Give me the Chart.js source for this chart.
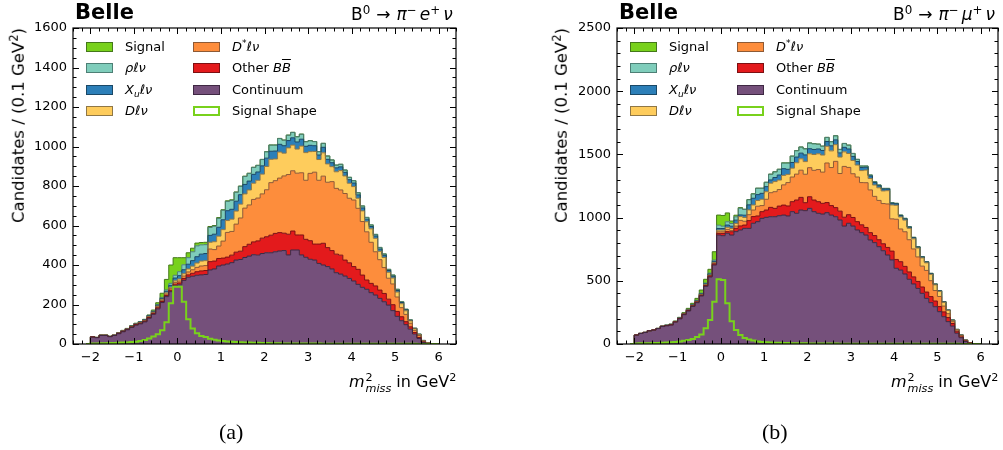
<!DOCTYPE html>
<html>
<head>
<meta charset="utf-8">
<script src="https://cdn.jsdelivr.net/npm/chart.js@4.4.1/dist/chart.umd.min.js"></script>
<style>
  html, body { margin: 0; padding: 0; background: #fff; }
  body { width: 1003px; height: 450px; position: relative; overflow: hidden;
         font-family: 'DejaVu Sans', sans-serif; color: #000; }
  .panel { position: absolute; top: 0; height: 450px; }
  .t { position: absolute; white-space: nowrap; line-height: 1; }
  .belle { font-weight: bold; font-size: 21px; }
  .decay { font-size: 17px; }
  .decay .ar { margin: 0 6px; }
  .decay .g { margin-right: 3px; }
  .ylab { font-size: 16.5px; transform-origin: 0 0; transform: rotate(-90deg) translate(-100%, -50%); }
  .xlab { font-size: 16px; }
  .cap { font-family: 'Liberation Serif', serif; font-size: 22px; }
  .sp { font-size: 0.7em; position: relative; top: -0.5em; }
  .sb { font-size: 0.7em; position: relative; top: 0.3em; }
  .ms { display: inline-flex; flex-direction: column; align-items: flex-start;
        font-size: 0.7em; line-height: 1; vertical-align: 6px; margin-left: 1px; }
  .sw { position: absolute; width: 27px; height: 10px; box-sizing: border-box; border: 1px solid #777; }
  .lt { position: absolute; white-space: nowrap; font-size: 13px; line-height: 14px; }
  .ov { text-decoration: overline; }
</style>
</head>
<body>
<div class="panel" style="left:0;width:500px;"><canvas id="chartE"></canvas></div>
<div class="panel" style="left:500px;width:503px;"><canvas id="chartMu"></canvas></div>
<div id="overlay"></div>
<script>
// Histogram binning of m_miss^2 (GeV^2)
const BIN_START = -2.0;
const BIN_WIDTH = 0.1;

// Axis ticks
const X_TICKS = [-2, -1, 0, 1, 2, 3, 4, 5, 6];
const Y_TICKS_E = [0, 200, 400, 600, 800, 1000, 1200, 1400, 1600];
const Y_TICKS_MU = [0, 500, 1000, 1500, 2000, 2500];

// ---- B0 -> pi- e+ nu : candidates per bin, stacked from the bottom ----
const E_CONTINUUM = [35, 32, 43, 43, 37, 43, 52, 62, 72, 84,
  95, 102, 112, 130, 150, 178, 210, 240, 265, 295,
  300, 322, 338, 343, 348, 350, 352, 375, 380, 395,
  400, 405, 412, 425, 428, 438, 445, 452, 450, 458,
  462, 462, 467, 471, 473, 451, 476, 476, 451, 439,
  429, 425, 408, 400, 392, 380, 361, 354, 344, 332,
  319, 302, 287, 277, 260, 248, 231, 214, 197, 169,
  140, 118, 98, 75, 50, 28, 8, 2, 0, 0];
const E_OTHER_BB = [1, 1, 1, 1, 1, 1, 2, 2, 2, 2,
  3, 3, 3, 4, 4, 5, 5, 6, 7, 8,
  9, 10, 12, 15, 18, 20, 20, 42, 40, 38,
  35, 35, 38, 40, 42, 55, 60, 65, 72, 78,
  81, 89, 93, 93, 88, 105, 96, 76, 101, 91,
  94, 81, 98, 110, 96, 93, 94, 96, 81, 79,
  73, 76, 62, 47, 47, 46, 42, 42, 30, 30,
  25, 20, 15, 12, 8, 5, 2, 0, 0, 0];
const E_DSTAR = [0, 0, 0, 0, 0, 0, 1, 1, 1, 2,
  2, 2, 3, 3, 4, 5, 6, 7, 8, 9,
  10, 12, 15, 18, 22, 25, 25, 64, 58, 63,
  86, 125, 120, 142, 168, 195, 199, 215, 217, 224,
  238, 266, 267, 276, 290, 302, 305, 313, 315, 299,
  341, 364, 323, 340, 331, 349, 333, 330, 337, 327,
  337, 309, 271, 244, 208, 173, 154, 131, 106, 105,
  73, 46, 37, 18, 11, 10, 4, 3, 0, 0];
const E_D = [0, 0, 0, 0, 0, 0, 0, 1, 1, 1,
  1, 2, 2, 3, 3, 4, 5, 6, 7, 8,
  10, 12, 15, 18, 22, 25, 25, 34, 40, 50,
  58, 60, 62, 66, 70, 72, 76, 82, 90, 100,
  118, 118, 110, 132, 115, 135, 130, 122, 135, 140,
  110, 105, 105, 118, 93, 76, 84, 98, 89, 76,
  68, 51, 54, 51, 68, 68, 42, 51, 30, 30,
  25, 20, 18, 12, 8, 5, 3, 1, 0, 0];
const E_XU = [0, 0, 0, 0, 0, 0, 1, 1, 1, 1,
  2, 2, 2, 3, 3, 4, 5, 8, 10, 14,
  17, 20, 24, 28, 32, 35, 36, 35, 38, 45,
  50, 50, 50, 50, 48, 48, 45, 45, 42, 42,
  42, 41, 40, 39, 38, 37, 37, 36, 35, 32,
  32, 29, 23, 28, 23, 20, 20, 19, 18, 18,
  18, 17, 15, 13, 12, 12, 12, 11, 9, 9,
  8, 6, 5, 3, 2, 1, 1, 0, 0, 0];
const E_RHO = [0, 0, 0, 0, 0, 0, 0, 1, 1, 1,
  1, 2, 2, 2, 3, 4, 5, 7, 10, 14,
  20, 25, 33, 45, 55, 47, 45, 40, 40, 45,
  48, 47, 45, 45, 42, 40, 38, 35, 33, 32,
  32, 31, 30, 29, 28, 27, 27, 26, 25, 23,
  23, 21, 17, 20, 17, 14, 14, 13, 12, 12,
  12, 11, 10, 9, 8, 8, 8, 7, 6, 6,
  6, 4, 3, 2, 1, 1, 0, 0, 0, 0];
const E_SIGNAL = [1, 1, 2, 2, 2, 2, 1, 1, 1, 2,
  1, 1, 1, 2, 5, 9, 21, 53, 93, 89,
  71, 36, 25, 18, 14, 12, 12, 5, 4, 4,
  3, 3, 3, 2, 2, 2, 2, 1, 1, 1,
  1, 1, 1, 1, 1, 1, 1, 1, 1, 1,
  1, 0, 0, 0, 0, 0, 0, 0, 0, 0,
  0, 0, 0, 0, 0, 0, 0, 0, 0, 0,
  0, 0, 0, 0, 0, 0, 0, 0, 0, 0];
const E_SHAPE = [3, 3, 4, 4, 5, 5, 6, 7, 8, 10,
  12, 15, 20, 28, 38, 50, 70, 110, 206, 290,
  290, 214, 125, 79, 54, 40, 35, 26, 22, 18,
  15, 13, 11, 10, 9, 8, 7, 6, 6, 5,
  5, 4, 4, 4, 3, 3, 3, 3, 2, 2,
  2, 2, 2, 1, 1, 1, 1, 1, 1, 1,
  1, 1, 1, 1, 1, 1, 1, 1, 1, 1,
  1, 1, 1, 1, 1, 0, 0, 0, 0, 0];

// ---- B0 -> pi- mu+ nu ----
const MU_CONTINUUM = [70, 83, 91, 104, 110, 122, 138, 144, 150, 173,
  199, 232, 261, 297, 327, 380, 456, 530, 625, 862,
  857, 876, 862, 889, 902, 915, 915, 955, 968, 994,
  1002, 1007, 1007, 1015, 1020, 1013, 1047, 1034, 1060, 1055,
  1073, 1047, 1034, 1028, 1039, 1020, 1007, 981, 933, 955,
  933, 902, 881, 862, 823, 802, 770, 738, 704, 665,
  599, 585, 554, 512, 475, 440, 401, 361, 327, 295,
  256, 216, 177, 142, 85, 50, 20, 5, 0, 0];
const MU_OTHER_BB = [1, 1, 1, 1, 1, 1, 2, 2, 2, 2,
  3, 3, 4, 4, 5, 5, 6, 7, 8, 13,
  18, 13, 26, 26, 32, 26, 61, 53, 45, 53,
  58, 74, 66, 76, 79, 79, 79, 105, 100, 63,
  92, 92, 92, 85, 80, 75, 72, 70, 70, 68,
  68, 66, 62, 60, 58, 56, 55, 55, 60, 70,
  70, 66, 60, 58, 56, 55, 50, 50, 48, 45,
  40, 38, 32, 20, 12, 6, 3, 2, 0, 0];
const MU_DSTAR = [0, 0, 0, 0, 0, 0, 0, 1, 1, 1,
  1, 2, 2, 3, 3, 4, 4, 5, 6, 13,
  13, 18, 11, 18, 44, 30, 47, 52, 77, 48,
  85, 116, 132, 131, 160, 185, 195, 205, 215, 225,
  230, 235, 254, 247, 313, 301, 366, 298, 402, 374,
  346, 353, 334, 354, 338, 310, 311, 318, 344, 255,
  318, 259, 274, 255, 221, 194, 165, 171, 126, 83,
  80, 46, 31, 15, 12, 11, 6, 3, 0, 0];
const MU_D = [0, 0, 0, 0, 0, 0, 0, 0, 1, 1,
  1, 1, 2, 2, 3, 3, 4, 4, 5, 13,
  13, 16, 15, 21, 30, 30, 38, 40, 45, 50,
  60, 75, 80, 75, 75, 65, 70, 90, 90, 100,
  110, 125, 125, 135, 132, 132, 132, 130, 115, 110,
  105, 95, 95, 100, 90, 90, 100, 100, 105, 110,
  110, 95, 92, 90, 80, 70, 65, 60, 50, 45,
  40, 30, 25, 10, 5, 3, 2, 1, 0, 0];
const MU_XU = [0, 0, 0, 0, 0, 0, 1, 1, 1, 1,
  2, 2, 3, 3, 4, 5, 6, 8, 10, 13,
  13, 18, 18, 26, 13, 18, 40, 53, 47, 47,
  40, 26, 32, 40, 53, 40, 45, 45, 45, 53,
  40, 40, 38, 36, 38, 40, 38, 33, 36, 36,
  32, 28, 24, 22, 20, 19, 16, 15, 13, 13,
  12, 11, 10, 10, 9, 8, 8, 7, 6, 5,
  5, 4, 3, 2, 1, 1, 0, 0, 0, 0];
const MU_RHO = [0, 0, 0, 0, 0, 0, 0, 1, 1, 1,
  1, 2, 2, 3, 4, 5, 6, 7, 10, 26,
  18, 26, 21, 26, 53, 45, 40, 34, 50, 40,
  34, 45, 45, 45, 45, 50, 50, 50, 48, 48,
  45, 45, 38, 34, 32, 32, 32, 27, 30, 30,
  23, 17, 12, 10, 8, 7, 6, 5, 5, 5,
  4, 4, 4, 3, 3, 3, 2, 2, 2, 2,
  1, 1, 1, 1, 1, 0, 0, 0, 0, 0];
const MU_SIGNAL = [0, 0, 0, 0, 0, 1, 1, 1, 2, 3,
  4, 6, 8, 10, 15, 25, 30, 30, 66, 80,
  85, 70, 20, 13, 5, 3, 2, 2, 1, 1,
  1, 1, 1, 1, 1, 1, 1, 1, 1, 1,
  1, 1, 1, 1, 1, 1, 1, 1, 1, 1,
  1, 0, 0, 0, 0, 0, 0, 0, 0, 0,
  0, 0, 0, 0, 0, 0, 0, 0, 0, 0,
  0, 0, 0, 0, 0, 0, 0, 0, 0, 0];
const MU_SHAPE = [4, 5, 5, 6, 7, 8, 9, 11, 13, 16,
  20, 26, 32, 40, 55, 75, 125, 190, 335, 512,
  506, 322, 180, 111, 71, 48, 35, 27, 20, 16,
  13, 11, 10, 9, 8, 7, 6, 6, 5, 5,
  4, 4, 4, 3, 3, 3, 3, 2, 2, 2,
  2, 2, 2, 1, 1, 1, 1, 1, 1, 1,
  1, 1, 1, 1, 1, 1, 1, 1, 1, 1,
  1, 1, 1, 1, 1, 0, 0, 0, 0, 0];

// Component styles, bottom of the stack first
const STYLE = {
  continuum: { fill: '#75507b', edge: '#3e2843' },
  otherBB:   { fill: '#e31a1c', edge: '#7d1012' },
  dstar:     { fill: '#fd8d3c', edge: '#8e5a35' },
  d:         { fill: '#fecc5c', edge: '#8f7746' },
  xu:        { fill: '#2c7fb8', edge: '#1a4866' },
  rho:       { fill: '#7fcdbb', edge: '#4d7f75' },
  signal:    { fill: '#78d11c', edge: '#44781a' },
  shape:     { line: '#78d11c' }
};

// Turn per-bin contents into step vertices at the bin edges
function stepPoints(values) {
  const pts = [{ x: +(BIN_START - BIN_WIDTH).toFixed(3), y: 0 }];
  values.forEach((v, i) => pts.push({ x: +(BIN_START + i * BIN_WIDTH).toFixed(3), y: v }));
  pts.push({ x: +(BIN_START + values.length * BIN_WIDTH).toFixed(3), y: 0 });
  return pts;
}

// Inward major/minor ticks on all four sides plus the frame
const frameTicks = {
  id: 'frameTicks',
  afterDraw(chart, args, o) {
    const { ctx, chartArea: a } = chart;
    const xs = chart.scales.x, ys = chart.scales.y;
    ctx.save();
    ctx.strokeStyle = '#000';
    ctx.lineWidth = 1;
    ctx.beginPath();
    const kMin = Math.ceil(xs.min / o.xMinor - 1e-9), kMax = Math.floor(xs.max / o.xMinor + 1e-9);
    for (let k = kMin; k <= kMax; k++) {
      const v = k * o.xMinor;
      const major = Math.abs(v - Math.round(v)) < 1e-6;
      const len = major ? 6 : 3.5;
      const px = Math.round(xs.getPixelForValue(v)) + 0.5;
      ctx.moveTo(px, a.bottom); ctx.lineTo(px, a.bottom - len);
      ctx.moveTo(px, a.top); ctx.lineTo(px, a.top + len);
    }
    for (let v = 0; v <= ys.max + 1e-6; v += o.yMinor) {
      const major = v % o.yMajor === 0;
      const len = major ? 6 : 3.5;
      const py = Math.round(ys.getPixelForValue(v)) + 0.5;
      ctx.moveTo(a.left, py); ctx.lineTo(a.left + len, py);
      ctx.moveTo(a.right, py); ctx.lineTo(a.right - len, py);
    }
    ctx.stroke();
    ctx.lineWidth = 1.2;
    ctx.strokeRect(a.left, a.top, a.right - a.left, a.bottom - a.top);
    ctx.restore();
  }
};

Chart.defaults.font.family = "'DejaVu Sans', sans-serif";
Chart.defaults.font.size = 13;
Chart.defaults.color = '#000';

function makeChart(id, parts, shape, yTicks, yMinor, pad, yWidth) {
  const order = ['continuum', 'otherBB', 'dstar', 'd', 'xu', 'rho', 'signal'];
  const datasets = order.map((key, i) => ({
    label: key,
    data: stepPoints(parts[key]),
    stepped: 'before',
    backgroundColor: STYLE[key].fill,
    borderColor: STYLE[key].edge,
    borderWidth: 1,
    pointRadius: 0,
    fill: i === 0 ? 'origin' : '-1'
  }));
  datasets.push({
    label: 'shape',
    data: stepPoints(shape),
    stepped: 'before',
    stack: 'shape',
    borderColor: STYLE.shape.line,
    backgroundColor: 'transparent',
    borderWidth: 2,
    pointRadius: 0,
    fill: false,
    order: -1
  });
  const yMax = yTicks[yTicks.length - 1];
  return new Chart(document.getElementById(id), {
    type: 'line',
    data: { datasets },
    options: {
      responsive: true,
      maintainAspectRatio: false,
      animation: false,
      devicePixelRatio: 1,
      layout: { padding: pad },
      plugins: {
        legend: { display: false },
        tooltip: { enabled: false },
        filler: { drawTime: 'beforeDatasetsDraw' },
        frameTicks: { xMinor: 0.2, yMinor: yMinor, yMajor: yTicks[1] }
      },
      scales: {
        x: {
          type: 'linear', min: -2.4, max: 6.4,
          grid: { display: false, drawTicks: false },
          border: { display: false },
          afterBuildTicks: s => { s.ticks = X_TICKS.map(v => ({ value: v })); },
          afterFit: s => { s.height = 106; },
          ticks: { padding: 6, includeBounds: false, maxRotation: 0,
                   callback: v => (v < 0 ? '\u2212' + Math.abs(v) : String(v)) }
        },
        y: {
          stacked: true, min: 0, max: yMax,
          grid: { display: false, drawTicks: false },
          border: { display: false },
          afterBuildTicks: s => { s.ticks = yTicks.map(v => ({ value: v })); },
          afterFit: s => { s.width = yWidth; },
          ticks: { padding: 6, callback: v => String(v) }
        }
      }
    },
    plugins: [frameTicks]
  });
}

makeChart('chartE',
  { continuum: E_CONTINUUM, otherBB: E_OTHER_BB, dstar: E_DSTAR, d: E_D,
    xu: E_XU, rho: E_RHO, signal: E_SIGNAL },
  E_SHAPE, Y_TICKS_E, 50, { left: 0, top: 28, right: 44, bottom: 0 }, 73);

makeChart('chartMu',
  { continuum: MU_CONTINUUM, otherBB: MU_OTHER_BB, dstar: MU_DSTAR, d: MU_D,
    xu: MU_XU, rho: MU_RHO, signal: MU_SIGNAL },
  MU_SHAPE, Y_TICKS_MU, 100, { left: 0, top: 28, right: 5, bottom: 0 }, 117);

// Titles, axis labels, legends and captions
const LEGEND = [
  { html: 'Signal', key: 'signal', col: 0, row: 0 },
  { html: '<i>ρℓν</i>', key: 'rho', col: 0, row: 1 },
  { html: '<i>X<span class="sb">u</span>ℓν</i>', key: 'xu', col: 0, row: 2 },
  { html: '<i>Dℓν</i>', key: 'd', col: 0, row: 3 },
  { html: '<i>D<span class="sp">*</span>ℓν</i>', key: 'dstar', col: 1, row: 0 },
  { html: 'Other <i>B<span class="ov">B</span></i>', key: 'otherBB', col: 1, row: 1 },
  { html: 'Continuum', key: 'continuum', col: 1, row: 2 },
  { html: 'Signal Shape', key: 'shape', col: 1, row: 3 }
];

const PANELS = [
  { left: 73, right: 456, ylabX: 19, cap: '(a)', capX: 231,
    decay: 'B<span class="sp">0</span><span class="ar">→</span><i>π</i><span class="sp g">−</span><i>e</i><span class="sp g">+</span><i>ν</i>' },
  { left: 617, right: 998, ylabX: 562, cap: '(b)', capX: 775,
    decay: 'B<span class="sp">0</span><span class="ar">→</span><i>π</i><span class="sp g">−</span><i>μ</i><span class="sp g">+</span><i>ν</i>' }
];

const ov = document.getElementById('overlay');
function add(cls, html, css) {
  const d = document.createElement('div');
  d.className = cls;
  d.innerHTML = html;
  Object.assign(d.style, css);
  ov.appendChild(d);
  return d;
}

PANELS.forEach(p => {
  add('t belle', 'Belle', { left: (p.left + 2) + 'px', top: '2px' });
  const dc = add('t decay', p.decay, { top: '6px' });
  dc.style.left = (p.right - 3 - dc.offsetWidth) + 'px';
  add('t ylab', 'Candidates / (0.1 GeV<span class="sp">2</span>)', { left: p.ylabX + 'px', top: '28px' });
  const xl = add('t xlab', '<i>m</i><span class="ms"><span>2</span><i>miss</i></span> in GeV<span class="sp">2</span>', { top: '372px' });
  xl.style.left = (p.right - xl.offsetWidth) + 'px';
  const cp = add('t cap', p.cap, { top: '421px' });
  cp.style.left = (p.capX - cp.offsetWidth / 2) + 'px';

  LEGEND.forEach(item => {
    const sx = p.left + 13 + item.col * 107;
    const cy = 47 + item.row * 21.3;
    const st = STYLE[item.key];
    const sw = add('sw', '', { left: sx + 'px', top: Math.round(cy - 5) + 'px' });
    if (item.key === 'shape') {
      sw.style.background = '#fff';
      sw.style.border = '2px solid ' + st.line;
    } else {
      sw.style.background = st.fill;
      sw.style.borderColor = st.edge;
    }
    add('lt', item.html, { left: (sx + 39) + 'px', top: Math.round(cy - 7) + 'px' });
  });
});
</script>
</body>
</html>
